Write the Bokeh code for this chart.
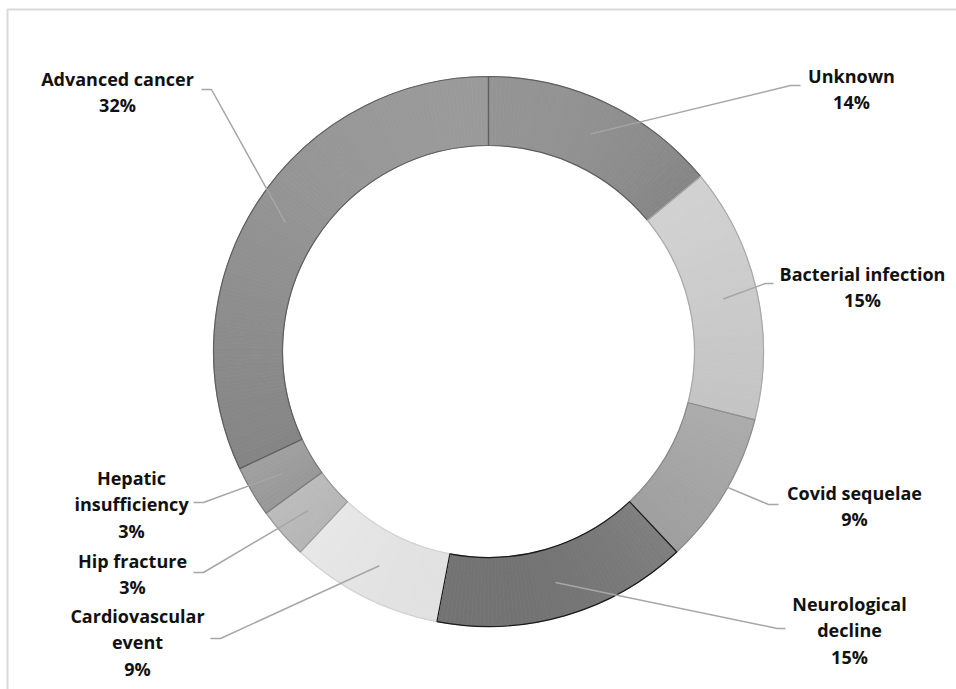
import math
from bokeh.plotting import figure
from bokeh.models import Range1d
from bokeh.core.properties import value
from bokeh.embed import file_html
from bokeh.resources import INLINE

# ---- data ----
causes = ["Unknown", "Bacterial infection", "Covid sequelae", "Neurological decline",
          "Cardiovascular event", "Hip fracture", "Hepatic insufficiency", "Advanced cancer"]
percent = [14, 15, 9, 15, 9, 3, 3, 32]
label_lines = [["Unknown", "14%"],
               ["Bacterial infection", "15%"],
               ["Covid sequelae", "9%"],
               ["Neurological", "decline", "15%"],
               ["Cardiovascular", "event", "9%"],
               ["Hip fracture", "3%"],
               ["Hepatic", "insufficiency", "3%"],
               ["Advanced cancer", "32%"]]

# ---- styles (grey levels: top of segment, bottom of segment) ----
grey_top = [0x9a, 0xd3, 0xad, 0x84, 0xea, 0xc0, 0xa4, 0x9c]
grey_bottom = [0x82, 0xc3, 0x9c, 0x6c, 0xdd, 0xb1, 0x93, 0x84]
outlines = ["#5f5f5f", "#a8a8a8", "#8c8c8c", "#1a1a1a", "#d2d2d2", "#9a9a9a", "#7c7c7c", "#5f5f5f"]

# ---- layout (pixel coordinates, y downwards) ----
W, H = 956, 689
CX, CY = 488, 351
R_IN, R_OUT = 206, 275
# label block: centre x, first line centre y, leader end x, elbow x, leader y
label_layout = [(851, 75, 800, 790, 85),
                (862, 273, 773, 765, 283),
                (854, 492, 778, 768, 504),
                (849, 603, 785, 777, 628),
                (137, 615, 210, 220, 638),
                (132, 560, 193, 203, 572),
                (131, 477, 193, 203, 502),
                (117, 78, 201, 211, 89)]
LINE_STEP = 26.5


def fy(y):
    return H - y


def grey(level):
    level = int(round(max(0, min(255, level))))
    return "#%02x%02x%02x" % (level, level, level)


p = figure(width=W, height=H, x_range=Range1d(0, W), y_range=Range1d(0, H),
           output_backend="svg", toolbar_location=None, min_border=0,
           outline_line_color=None, background_fill_color="white")
p.axis.visible = False
p.grid.visible = False

# frame
p.line([7, 7, W + 5], [fy(H + 5), fy(9), fy(9)], line_color="#d9d9d9", line_width=2)

total = float(sum(percent))
fr0, fr1 = [], []
acc = 0.0
for v in percent:
    fr0.append(acc / total)
    acc += v
    fr1.append(acc / total)


def ang(f):
    # clockwise from 12 o'clock -> bokeh angle (anticlockwise from +x)
    return math.pi / 2 - f * 2 * math.pi


# gradient fill: each segment split into thin slices shaded by vertical position
for i in range(len(percent)):
    n = max(4, int(percent[i] * 4))
    # vertical extent of the segment
    ys = []
    for k in range(0, 201):
        f = fr0[i] + (fr1[i] - fr0[i]) * k / 200
        a = f * 2 * math.pi
        for r in (R_IN, R_OUT):
            ys.append(CY - r * math.cos(a))
    ymin, ymax = min(ys), max(ys)
    sa, ea, cols = [], [], []
    for k in range(n):
        f0 = fr0[i] + (fr1[i] - fr0[i]) * k / n
        f1 = fr0[i] + (fr1[i] - fr0[i]) * (k + 1) / n
        fm = (f0 + f1) / 2
        yc = CY - (R_IN + R_OUT) / 2 * math.cos(fm * 2 * math.pi)
        t = (yc - ymin) / (ymax - ymin) if ymax > ymin else 0.5
        col = grey(grey_top[i] + (grey_bottom[i] - grey_top[i]) * t)
        sa.append(ang(f1))
        ea.append(ang(f0))
        cols.append(col)
    p.annular_wedge(x=[CX] * n, y=[fy(CY)] * n, inner_radius=R_IN, outer_radius=R_OUT,
                    start_angle=sa, end_angle=ea, direction="anticlock",
                    fill_color=cols, line_color=cols, line_width=0.8)

# outlines
order = [0, 1, 2, 4, 5, 6, 7, 3]
for i in order:
    p.annular_wedge(x=CX, y=fy(CY), inner_radius=R_IN, outer_radius=R_OUT,
                    start_angle=ang(fr1[i]), end_angle=ang(fr0[i]), direction="anticlock",
                    fill_color=None, line_color=outlines[i], line_width=1.2)

R_MID = (R_IN + R_OUT) / 2
for i in range(len(percent)):
    a = (fr0[i] + fr1[i]) / 2 * 2 * math.pi
    mx = CX + R_MID * math.sin(a)
    my = CY - R_MID * math.cos(a)
    lx, ly, ex, elx, ey = label_layout[i]
    p.line([mx, elx, ex], [fy(my), fy(ey), fy(ey)], line_color="#a6a6a6", line_width=1.5)
    for k, t in enumerate(label_lines[i]):
        p.text(x=[lx], y=[fy(ly + k * LINE_STEP)], text=[t], text_align="center",
               text_baseline="middle", text_font=value("Open Sans"), text_font_style="bold",
               text_font_size="18px", text_color="#111111")

open("out.html", "w").write(file_html(p, INLINE))
